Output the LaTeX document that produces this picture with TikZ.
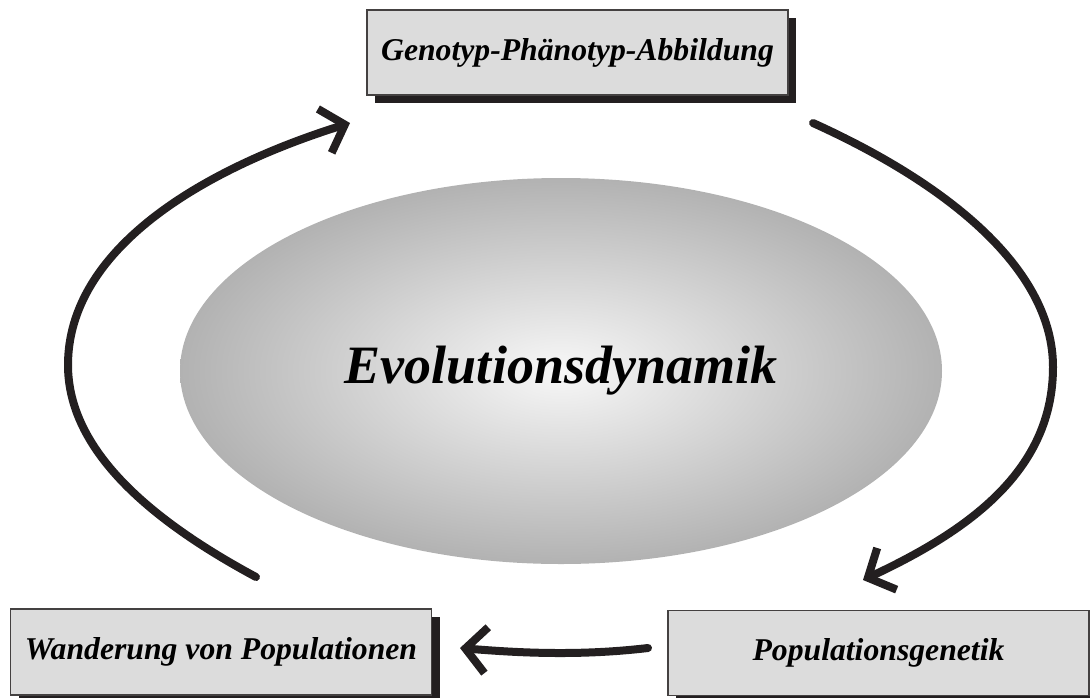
\documentclass[tikz,border=0pt]{standalone}
\usepackage{fontspec}
\setmainfont{Liberation Serif}
\usetikzlibrary{arrows.meta,shadows,shapes.geometric}
\definecolor{ink}{HTML}{231F20}
\definecolor{boxfill}{HTML}{DCDCDC}
\definecolor{ellout}{HTML}{B2B2B2}
\begin{document}
\begin{tikzpicture}[x=1pt,y=-1pt,
  lbl/.style={draw=ink!85, line width=1.2pt, fill=boxfill,
    minimum width=421pt, minimum height=85pt, inner sep=0pt,
    font=\fontsize{31.7}{38}\selectfont\bfseries\itshape,
    drop shadow={shadow xshift=8pt, shadow yshift=-8pt, fill=ink, opacity=1}},
  flow/.style={draw=ink, line width=8pt, line cap=round,
    -{Straight Barb[length=21pt,width=46pt]}}]
\useasboundingbox (0,0) rectangle (1090,697);

% central ellipse
\node[ellipse, minimum width=762pt, minimum height=386pt, inner sep=0pt,
      shading=radial, inner color=white!97!black, outer color=ellout,
      font=\fontsize{54}{64}\selectfont\bfseries\itshape]
  (evo) at (561,371) {Evolutionsdynamik};

% boxes
\node[lbl] (gpa) at (577.5,52.5) {Genotyp-Phänotyp-Abbildung};
\node[lbl, minimum height=86pt] (wan) at (221,652) {Wanderung von Populationen};
\node[lbl] (pop) at (878.5,653) {Populationsgenetik};

% arrow end points
\coordinate (l1) at (256,577);
\coordinate (l2) at (350,123);
\coordinate (r1) at (813,123);
\coordinate (r2) at (863,580);
\coordinate (b1) at (648,648);
\coordinate (b2) at (460,648);

% connectors
\draw[flow] (l1) .. controls (150,520) and (68,450) .. (68,365)
                 .. controls (68,250) and (200,170) .. (l2);
\draw[flow] (r1) .. controls (950,185) and (1053,270) .. (1053,367)
                 .. controls (1053,470) and (970,530) .. (r2);
\draw[flow] (b1) .. controls (580,656) and (520,653) .. (b2);
\end{tikzpicture}
\end{document}
